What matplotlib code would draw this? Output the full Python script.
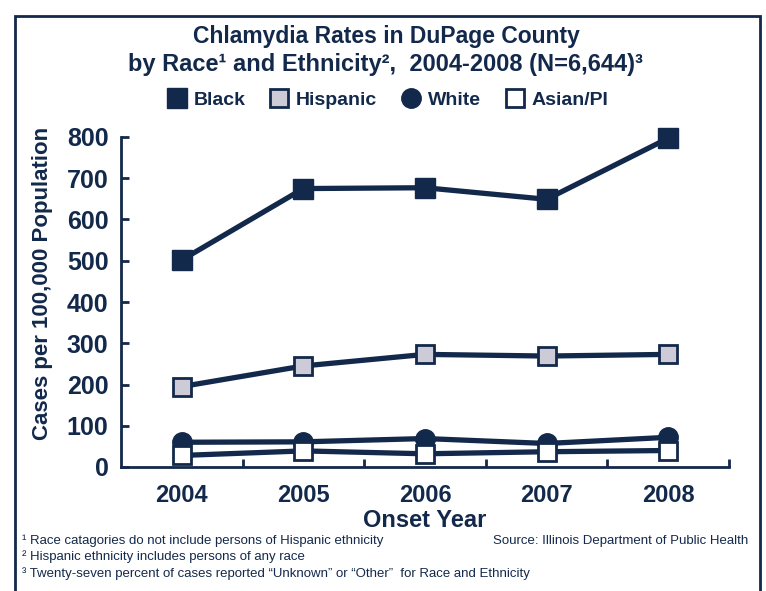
import matplotlib
matplotlib.use('Agg')
import matplotlib.pyplot as plt
from matplotlib.patches import Rectangle

years = [2004, 2005, 2006, 2007, 2008]
black = [502, 675, 677, 649, 797]
hispanic = [195, 245, 273, 269, 273]
white = [60, 61, 69, 57, 72]
asian = [28, 39, 32, 37, 40]
yticks = [0, 100, 200, 300, 400, 500, 600, 700, 800]

navy = '#13294b'
grey = '#cdcbd8'

plt.rcParams['font.family'] = ['Liberation Sans', 'DejaVu Sans']

fig = plt.figure(figsize=(7.66, 5.91), dpi=100)
# frame round the chart, runs off the bottom edge
fig.patches.append(Rectangle((15/766, -0.05), 745/766, 1.05 - 16/591,
                             transform=fig.transFigure, fill=False,
                             edgecolor=navy, linewidth=2))

ax = fig.add_axes([121/766, (591-467)/591, 608/766, 330/591])

lw = 3.8
ax.plot(years, black, '-s', color=navy, lw=lw, ms=14, mfc=navy, mec=navy, label='Black', zorder=3, clip_on=False)
ax.plot(years, hispanic, '-s', color=navy, lw=lw, ms=13, mfc=grey, mec=navy, mew=2, label='Hispanic', zorder=3, clip_on=False)
ax.plot(years, white, '-o', color=navy, lw=lw, ms=14, mfc=navy, mec=navy, label='White', zorder=3, clip_on=False)
ax.plot(years, asian, '-s', color=navy, lw=lw, ms=13, mfc='white', mec=navy, mew=2, label='Asian/PI', zorder=4, clip_on=False)

ax.set_xlim(2003.5, 2008.5)
ax.set_ylim(0, 800)
ax.set_yticks(yticks)
ax.set_xticks(years)
ax.set_xticks([y + 0.5 for y in years], minor=True)
for s in ['top', 'right']:
    ax.spines[s].set_visible(False)
for s in ['left', 'bottom']:
    ax.spines[s].set_color(navy)
    ax.spines[s].set_linewidth(2)
ax.tick_params(axis='y', direction='in', length=6, width=2, color=navy,
               labelsize=18, labelcolor=navy, pad=9)
ax.tick_params(axis='x', which='major', length=0, labelsize=17, labelcolor=navy, pad=12)
ax.tick_params(axis='x', which='minor', direction='in', length=6, width=2, color=navy)
for t in ax.get_xticklabels() + ax.get_yticklabels():
    t.set_fontweight('bold')

ax.set_ylabel('Cases per 100,000 Population', fontsize=16, fontweight='bold', color=navy)
ax.yaxis.set_label_coords(-0.112, 0.555)
ax.set_xlabel('Onset Year', fontsize=17, fontweight='bold', color=navy, labelpad=2)

fig.text(386/766, 1 - 36/591, 'Chlamydia Rates in DuPage County', ha='center', va='center',
         fontsize=16.5, fontweight='bold', color=navy)
fig.text(385/766, 1 - 65/591,
         'by Race\u00b9 and Ethnicity\u00b2,  2004-2008 (N=6,644)\u00b3',
         ha='center', va='center', fontsize=17, fontweight='bold', color=navy)

handles, labels = ax.get_legend_handles_labels()
leg = fig.legend(handles, labels, loc='center', bbox_to_anchor=(388/766, 1 - 100/591), ncol=4,
                 frameon=False, handlelength=0.9, handletextpad=0.4, columnspacing=1.3,
                 prop={'size': 14, 'weight': 'bold'})
for h in leg.legend_handles:
    h.set_linestyle('None')
for t in leg.get_texts():
    t.set_color(navy)

fn = 9.5
fig.text(22/766, 1 - 541/591, '\u00b9 Race catagories do not include persons of Hispanic ethnicity',
         fontsize=fn, color=navy, va='center')
fig.text(22/766, 1 - 557/591, '\u00b2 Hispanic ethnicity includes persons of any race',
         fontsize=fn, color=navy, va='center')
fig.text(22/766, 1 - 574/591,
         '\u00b3 Twenty-seven percent of cases reported \u201cUnknown\u201d or \u201cOther\u201d  for Race and Ethnicity',
         fontsize=fn, color=navy, va='center')
fig.text(748/766, 1 - 541/591, 'Source: Illinois Department of Public Health',
         fontsize=fn, color=navy, va='center', ha='right')

fig.savefig('out.png', dpi=100)
